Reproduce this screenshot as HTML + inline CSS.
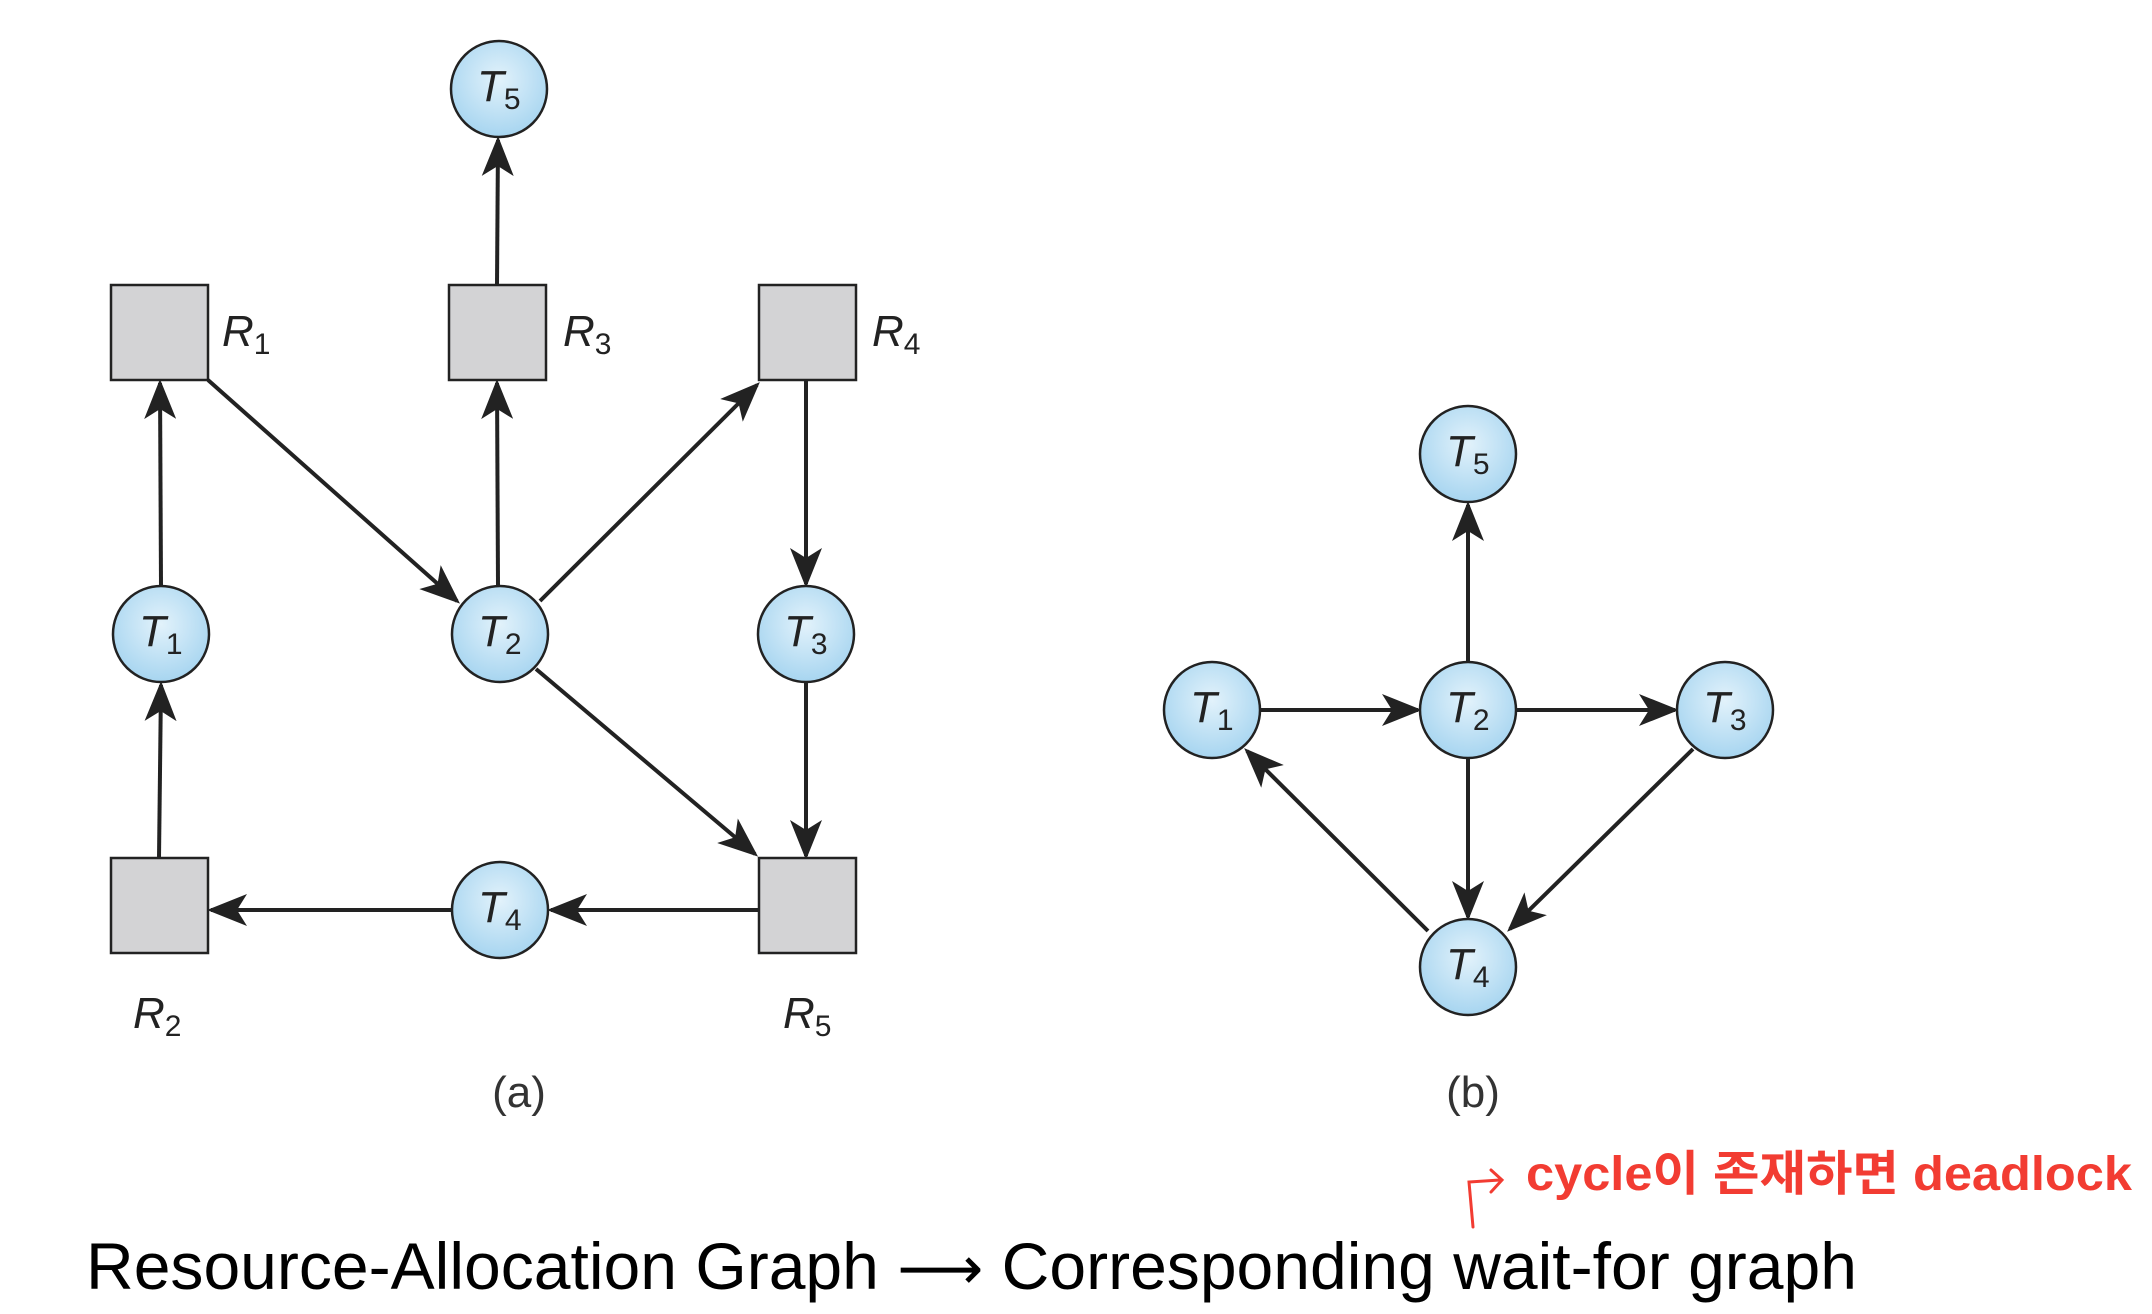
<!DOCTYPE html>
<html><head><meta charset="utf-8"><style>
html,body{margin:0;padding:0;background:#fff;width:2152px;height:1314px;overflow:hidden}
svg{display:block}
.n{fill:url(#g);stroke:#222;stroke-width:2.5}
.b{fill:#d3d3d5;stroke:#222;stroke-width:2.5}
.e{stroke:#222;stroke-width:4;fill:none;marker-end:url(#a)}
.t{font-family:"Liberation Sans",sans-serif;font-style:italic;font-size:44px;fill:#222}
.s{font-style:normal;font-size:30px}
.c{font-family:"Liberation Sans",sans-serif;font-size:44px;fill:#333}
</style></head><body>
<svg width="2152" height="1314" viewBox="0 0 2152 1314" xmlns="http://www.w3.org/2000/svg">
<defs>
<radialGradient id="g" cx="50%" cy="40%" r="60%"><stop offset="0" stop-color="#e2f2fb"/><stop offset="1" stop-color="#a7d5f0"/></radialGradient>
<marker id="a" markerWidth="10" markerHeight="8" refX="9" refY="4" orient="auto" markerUnits="strokeWidth"><path d="M0,0 L10,4 L0,8 L2.5,4 z" fill="#222"/></marker>
</defs>
<g transform="translate(-2,-3)">
<!-- left edges -->
<line class="e" x1="499" y1="288" x2="500" y2="143"/>
<line class="e" x1="163" y1="589" x2="162" y2="386"/>
<line class="e" x1="161" y1="861" x2="163" y2="688"/>
<line class="e" x1="210" y1="383" x2="459" y2="604"/>
<line class="e" x1="500" y1="589" x2="499" y2="386"/>
<line class="e" x1="542" y1="604" x2="759" y2="388"/>
<line class="e" x1="808" y1="383" x2="808" y2="587"/>
<line class="e" x1="808" y1="685" x2="808" y2="859"/>
<line class="e" x1="538" y1="672" x2="757" y2="857"/>
<line class="e" x1="761" y1="913" x2="553" y2="913"/>
<line class="e" x1="454" y1="913" x2="213" y2="913"/>
<rect class="b" x="113" y="288" width="97" height="95"/>
<rect class="b" x="451" y="288" width="97" height="95"/>
<rect class="b" x="761" y="288" width="97" height="95"/>
<rect class="b" x="113" y="861" width="97" height="95"/>
<rect class="b" x="761" y="861" width="97" height="95"/>
<circle class="n" cx="501" cy="92" r="48"/><text class="t" x="479" y="104">T<tspan class="s" dy="8">5</tspan></text>
<circle class="n" cx="163" cy="637" r="48"/><text class="t" x="141" y="649">T<tspan class="s" dy="8">1</tspan></text>
<circle class="n" cx="502" cy="637" r="48"/><text class="t" x="480" y="649">T<tspan class="s" dy="8">2</tspan></text>
<circle class="n" cx="808" cy="637" r="48"/><text class="t" x="786" y="649">T<tspan class="s" dy="8">3</tspan></text>
<circle class="n" cx="502" cy="913" r="48"/><text class="t" x="480" y="925">T<tspan class="s" dy="8">4</tspan></text>
<text class="t" x="224" y="349">R<tspan class="s" dy="8">1</tspan></text>
<text class="t" x="565" y="349">R<tspan class="s" dy="8">3</tspan></text>
<text class="t" x="874" y="349">R<tspan class="s" dy="8">4</tspan></text>
<text class="t" x="135" y="1031">R<tspan class="s" dy="8">2</tspan></text>
<text class="t" x="785" y="1031">R<tspan class="s" dy="8">5</tspan></text>
<text class="c" x="521" y="1110" text-anchor="middle">(a)</text>
</g>
<g transform="translate(-6,-3)">
<line class="e" x1="1474" y1="665" x2="1474" y2="508"/>
<line class="e" x1="1266" y1="713" x2="1424" y2="713"/>
<line class="e" x1="1522" y1="713" x2="1681" y2="713"/>
<line class="e" x1="1474" y1="761" x2="1474" y2="920"/>
<line class="e" x1="1699" y1="752" x2="1516" y2="932"/>
<line class="e" x1="1434" y1="934" x2="1253" y2="754"/>
<circle class="n" cx="1474" cy="457" r="48"/><text class="t" x="1452" y="469">T<tspan class="s" dy="8">5</tspan></text>
<circle class="n" cx="1218" cy="713" r="48"/><text class="t" x="1196" y="725">T<tspan class="s" dy="8">1</tspan></text>
<circle class="n" cx="1474" cy="713" r="48"/><text class="t" x="1452" y="725">T<tspan class="s" dy="8">2</tspan></text>
<circle class="n" cx="1731" cy="713" r="48"/><text class="t" x="1709" y="725">T<tspan class="s" dy="8">3</tspan></text>
<circle class="n" cx="1474" cy="970" r="48"/><text class="t" x="1452" y="982">T<tspan class="s" dy="8">4</tspan></text>
<text class="c" x="1479" y="1110" text-anchor="middle">(b)</text>
</g>
<!-- red annotation -->
<path d="M1473,1227 L1469,1182 L1500,1180" stroke="#f23c32" stroke-width="3" fill="none" stroke-linecap="round"/>
<path d="M1491,1170 L1502,1180 L1491,1192" stroke="#f23c32" stroke-width="3" fill="none" stroke-linecap="round"/>
<text x="1526" y="1190" textLength="606" lengthAdjust="spacingAndGlyphs" style="font-family:'Liberation Sans','Noto Sans CJK KR',sans-serif;font-weight:bold;font-size:48px;fill:#f23c32">cycle이 존재하면 deadlock</text>
<!-- bottom caption -->
<text x="86" y="1289" textLength="1771" lengthAdjust="spacingAndGlyphs" style="font-family:'Liberation Sans',sans-serif;font-size:66px;fill:#000">Resource-Allocation Graph <tspan style="font-family:'DejaVu Sans',sans-serif;font-size:60px">⟶</tspan> Corresponding wait-for graph</text>
</svg>
</body></html>
